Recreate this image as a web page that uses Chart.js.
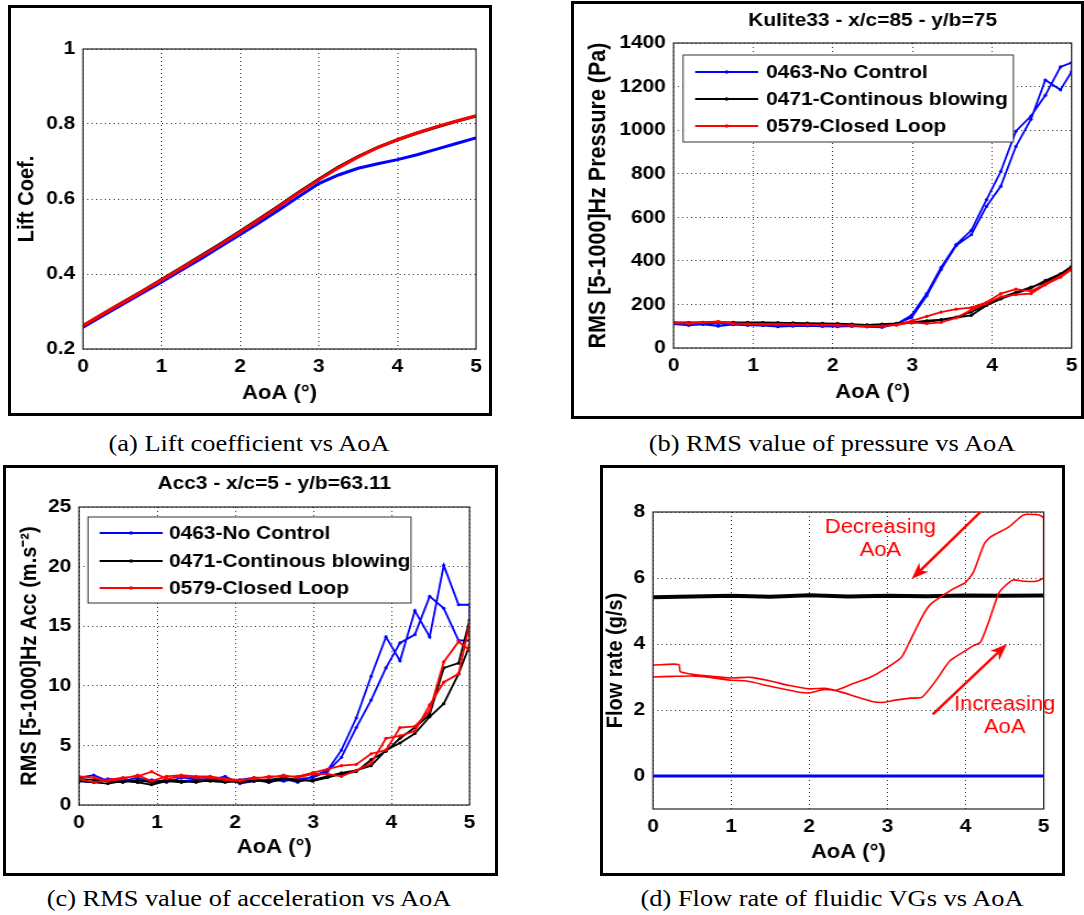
<!DOCTYPE html>
<html>
<head>
<meta charset="utf-8">
<title>AoA sweep - fluidic VGs</title>
<script src="https://cdn.jsdelivr.net/npm/chart.js@4.4.1/dist/chart.umd.min.js"></script>
<style>
  html, body { margin: 0; padding: 0; background: #fff; }
  body { position: relative; width: 1084px; height: 915px; overflow: hidden; }
  .panel { position: absolute; }
  .frame { position: absolute; box-sizing: border-box; border: 3px solid #000; pointer-events: none; }
  .cap { position: absolute; width: 500px; margin-left: -250px; text-align: center; color: #000;
         font-family: 'Liberation Serif', 'Times New Roman', serif; font-size: 24px; line-height: 28px;
         transform: scaleX(1.1); white-space: nowrap; }
</style>
</head>
<body>
<div class="panel" id="pa"><canvas id="chartA"></canvas></div>
<div class="panel" id="pb"><canvas id="chartB"></canvas></div>
<div class="panel" id="pc"><canvas id="chartC"></canvas></div>
<div class="panel" id="pd"><canvas id="chartD"></canvas></div>
<div class="cap" style="left:249px;top:429px">(a) Lift coefficient vs AoA</div>
<div class="cap" style="left:832px;top:429px">(b) RMS value of pressure vs AoA</div>
<div class="cap" style="left:249px;top:884px">(c) RMS value of acceleration vs AoA</div>
<div class="cap" style="left:832px;top:884px">(d) Flow rate of fluidic VGs vs AoA</div>

<script>
// ======== DATA =========
const aoaTicks = [0, 1, 2, 3, 4, 5];

// (a) lift coefficient
const aoaLift = [0, 0.25, 0.5, 0.75, 1, 1.25, 1.5, 1.75, 2, 2.25, 2.5, 2.75, 3, 3.25, 3.5, 3.75, 4, 4.25, 4.5, 4.75, 5];
const liftNoControl = [0.258, 0.289, 0.319, 0.349, 0.379, 0.41, 0.441, 0.473, 0.505, 0.538, 0.572, 0.607, 0.641, 0.664, 0.682, 0.694, 0.705, 0.718, 0.733, 0.748, 0.763];
const liftContinuous = [0.262, 0.293, 0.324, 0.354, 0.385, 0.417, 0.449, 0.481, 0.514, 0.548, 0.583, 0.619, 0.653, 0.685, 0.713, 0.738, 0.758, 0.776, 0.792, 0.807, 0.821];
const liftClosedLoop = [0.262, 0.293, 0.323, 0.353, 0.384, 0.415, 0.447, 0.479, 0.512, 0.546, 0.581, 0.617, 0.651, 0.683, 0.712, 0.737, 0.758, 0.776, 0.793, 0.808, 0.822];
const liftTicks = [0.2, 0.4, 0.6, 0.8, 1];

// (b) and (c) : AoA sweep up then back down
const aoaSweep = [0, 0.19, 0.37, 0.56, 0.75, 0.93, 1.12, 1.31, 1.5, 1.68, 1.87, 2.06, 2.24, 2.43, 2.62, 2.8, 2.99, 3.18, 3.36, 3.55, 3.74, 3.93, 4.11, 4.3, 4.49, 4.67, 4.86, 5];

// (b) RMS pressure, Pa
const pressNoCtrlUp = [110, 104, 108, 100, 107, 104, 103, 98, 100, 102, 99, 98, 100, 97, 95, 110, 150, 250, 370, 475, 540, 680, 810, 995, 1065, 1160, 1290, 1310];
const pressNoCtrlDown = [112, 110, 113, 112, 110, 108, 106, 105, 104, 105, 103, 102, 101, 100, 102, 112, 140, 240, 360, 470, 520, 650, 742, 925, 1050, 1230, 1185, 1268];
const pressContUp = [118, 117, 118, 119, 117, 118, 116, 115, 115, 114, 113, 112, 110, 105, 108, 112, 115, 120, 128, 140, 150, 195, 225, 250, 275, 310, 340, 375];
const pressContDown = [115, 116, 117, 118, 118, 116, 117, 116, 114, 113, 112, 111, 109, 106, 110, 113, 118, 125, 130, 142, 165, 200, 232, 255, 280, 300, 335, 370];
const pressLoopUp = [115, 112, 116, 118, 112, 110, 108, 107, 106, 106, 105, 104, 103, 98, 100, 105, 118, 112, 118, 138, 175, 205, 235, 245, 250, 290, 325, 360];
const pressLoopDown = [113, 115, 118, 122, 113, 111, 110, 109, 108, 107, 106, 105, 104, 100, 102, 107, 125, 145, 165, 178, 185, 210, 250, 270, 260, 295, 330, 365];
const pressTicks = [0, 200, 400, 600, 800, 1000, 1200, 1400];

// (c) RMS acceleration, m.s-2
const accNoCtrlUp = [2.3, 2.5, 2.0, 2.2, 1.9, 2.1, 1.9, 2.3, 2.2, 2.1, 2.4, 1.8, 2.0, 2.1, 2.0, 2.2, 2.3, 2.8, 4.0, 6.5, 8.8, 11.5, 13.6, 14.3, 17.5, 16.5, 13.8, 13.8];
const accNoCtrlDown = [2.0, 1.9, 2.2, 2.0, 2.3, 1.9, 2.1, 2.0, 2.1, 2.2, 2.0, 2.1, 2.3, 1.9, 2.2, 1.9, 2.4, 2.9, 4.6, 7.3, 10.8, 14.1, 12.1, 16.3, 14.1, 20.1, 16.8, 16.8];
const accContUp = [2.0, 1.9, 1.8, 2.0, 1.9, 1.7, 2.0, 1.9, 2.0, 2.0, 1.9, 2.0, 2.1, 1.9, 2.2, 2.0, 2.1, 2.4, 2.7, 2.9, 3.3, 4.6, 5.2, 6.0, 7.4, 8.5, 11.0, 13.4];
const accContDown = [2.2, 2.1, 2.0, 1.9, 2.1, 1.9, 2.1, 2.0, 1.9, 2.1, 2.0, 1.9, 2.0, 2.1, 2.3, 2.1, 2.0, 2.3, 2.6, 2.8, 3.8, 4.5, 5.6, 6.5, 7.6, 11.5, 11.9, 15.5];
const accLoopUp = [2.2, 1.9, 2.1, 2.3, 2.4, 2.8, 2.2, 2.4, 2.3, 2.3, 2.1, 2.0, 2.3, 2.3, 2.5, 2.3, 2.6, 2.6, 2.4, 2.9, 3.5, 5.6, 5.8, 6.2, 8.4, 10.3, 11.0, 15.2];
const accLoopDown = [2.4, 2.3, 2.0, 2.2, 2.5, 2.0, 2.4, 2.5, 2.4, 2.4, 2.2, 2.1, 2.2, 2.4, 2.4, 2.4, 2.7, 3.0, 3.3, 3.4, 4.3, 4.6, 6.5, 6.6, 7.9, 12.0, 13.7, 13.0];
const accTicks = [0, 5, 10, 15, 20, 25];

// (d) flow rate, g/s
const flowAoaNoCtrl = [0, 5];
const flowNoCtrl = [0, 0];
const flowAoaCont = [0, 0.5, 1, 1.5, 2, 2.5, 3, 3.5, 4, 4.5, 5];
const flowCont = [5.42, 5.44, 5.46, 5.43, 5.48, 5.44, 5.46, 5.45, 5.47, 5.46, 5.47];
const flowAoaLoop = [0, 0.33, 0.35, 0.5, 0.75, 1.0, 1.25, 1.5, 1.75, 2.0, 2.2, 2.34, 2.56, 2.78, 3.0, 3.18, 3.27, 3.44, 3.55, 3.71, 3.84, 4.0, 4.1, 4.24, 4.33, 4.55, 4.73, 4.81, 4.95, 5.0,
                     5.0, 4.9, 4.75, 4.61, 4.5, 4.42, 4.3, 4.19, 4.1, 4.0, 3.8, 3.62, 3.44, 3.3, 3.1, 2.95, 2.8, 2.6, 2.4, 2.2, 2.0, 1.9, 1.5, 1.2, 1.0, 0.75, 0.5, 0.25, 0];
const flowLoop = [3.36, 3.38, 3.16, 3.08, 3.02, 2.97, 2.99, 2.88, 2.74, 2.64, 2.66, 2.6, 2.8, 2.99, 3.29, 3.6, 4.0, 4.81, 5.2, 5.47, 5.67, 5.87, 6.18, 7.04, 7.26, 7.54, 7.9, 7.93, 7.9, 7.8,
                  6.02, 5.9, 5.9, 5.94, 5.75, 5.52, 4.7, 4.05, 3.95, 3.8, 3.49, 2.89, 2.38, 2.36, 2.3, 2.23, 2.26, 2.4, 2.55, 2.62, 2.52, 2.53, 2.72, 2.88, 2.9, 2.98, 3.03, 3.02, 3.0];
const flowTicks = [0, 2, 4, 6, 8];

// arrows + notes on (d), in data units (AoA, g/s)
const arrowDecTail = [4.19, 8.0];
const arrowDecHead = [3.31, 5.97];
const arrowIncTail = [3.58, 1.87];
const arrowIncHead = [4.53, 4.0];
const noteDec = { x: 2.91, y: [7.54, 6.84], text: ['Decreasing', 'AoA'] };
const noteInc = { x: 4.5, y: [2.18, 1.47], text: ['Increasing', 'AoA'] };

const seriesNames = ['0463-No Control', '0471-Continous blowing', '0579-Closed Loop'];

// ======== LAYOUT =========
// the reference figure is stretched horizontally, canvases are drawn narrow and widened by css
const S = 1.1;
const FONT = "'Liberation Sans', Arial, Helvetica, sans-serif";
Chart.defaults.font.family = FONT;
Chart.defaults.color = '#000';

// page pixels: outer frame, axes box, y-title centre x, x-title centre y, title centre y
const layoutA = { frame: [8, 5, 492, 416], plot: [83, 49, 476, 349], yTitleX: 27.7, xTitleY: 393, yTitleSize: 20 };
const layoutB = { frame: [571, 1, 1084, 419], plot: [673.5, 43, 1072, 348], yTitleX: 599, xTitleY: 392, titleY: 21, yTitleSize: 21.5 };
const layoutC = { frame: [3, 465, 498, 876], plot: [79, 507, 469.5, 805], yTitleX: 29.4, xTitleY: 847, titleY: 484, yTitleSize: 20 };
const layoutD = { frame: [600, 465, 1065, 876], plot: [653, 512, 1044, 809], yTitleX: 616, xTitleY: 852, yTitleSize: 20 };

function geometry(p) {
  const W = p.frame[2] - p.frame[0], H = p.frame[3] - p.frame[1];
  const cw = Math.round(W / S);
  const g = {
    W: W, H: H, cw: cw,
    left: (p.plot[0] - p.frame[0]) / S,
    right: cw - (p.plot[2] - p.frame[0]) / S,
    top: p.plot[1] - p.frame[1],
    xh: p.frame[3] - p.plot[3],
    yTitleSize: p.yTitleSize,
    yTitlePad: (p.yTitleX - p.frame[0]) / S - p.yTitleSize * 0.6,
    xTitlePad: p.frame[3] - p.xTitleY - 12
  };
  if (p.titleY) {
    g.titleTop = p.titleY - p.frame[1] - 11.4;
    g.titleBottom = g.top - g.titleTop - 22.8;
  }
  return g;
}

function mountPanel(id, p, g) {
  const box = document.getElementById(id);
  box.style.left = p.frame[0] + 'px';
  box.style.top = p.frame[1] + 'px';
  const cv = box.querySelector('canvas');
  cv.width = g.cw;
  cv.height = g.H;
  cv.style.width = g.W + 'px';
  cv.style.height = g.H + 'px';
  const fr = document.createElement('div');
  fr.className = 'frame';
  fr.style.left = p.frame[0] + 'px';
  fr.style.top = p.frame[1] + 'px';
  fr.style.width = g.W + 'px';
  fr.style.height = g.H + 'px';
  document.body.appendChild(fr);
  return cv;
}

function pairs(xs, ys) {
  return xs.map((x, i) => ({ x: x, y: ys[i] }));
}
function sweep(up, down) {
  return pairs(aoaSweep, up).concat(pairs(aoaSweep, down).reverse());
}

// ======== PLUGINS =========
const axesBox = {
  id: 'axesBox',
  afterDatasetsDraw(chart) {
    const a = chart.chartArea, ctx = chart.ctx;
    ctx.save();
    ctx.strokeStyle = '#222';
    ctx.lineWidth = 1.2;
    ctx.strokeRect(a.left, a.top, a.right - a.left, a.bottom - a.top);
    ctx.restore();
  }
};

function insideLegend(box) {
  return {
    id: 'insideLegend',
    afterDraw(chart) {
      const a = chart.chartArea, ctx = chart.ctx;
      const x0 = a.left + box.x / S, y0 = a.top + box.y;
      ctx.save();
      ctx.fillStyle = '#fff';
      ctx.fillRect(x0, y0, box.w / S, box.h);
      ctx.strokeStyle = '#333';
      ctx.lineWidth = 1;
      ctx.strokeRect(x0, y0, box.w / S, box.h);
      ctx.font = 'bold 19px ' + FONT;
      ctx.textBaseline = 'middle';
      ctx.textAlign = 'left';
      chart.data.datasets.forEach((ds, i) => {
        const y = y0 + box.rows[i];
        const xa = x0 + box.lineFrom / S, xb = x0 + box.lineTo / S;
        ctx.strokeStyle = ds.borderColor;
        ctx.lineWidth = ds.borderWidth;
        ctx.beginPath();
        ctx.moveTo(xa, y);
        ctx.lineTo(xb, y);
        ctx.stroke();
        ctx.fillStyle = ds.borderColor;
        ctx.beginPath();
        ctx.arc((xa + xb) / 2, y, 1.8, 0, Math.PI * 2);
        ctx.fill();
        ctx.fillStyle = '#000';
        ctx.fillText(ds.label, x0 + box.textX / S, y + 1);
      });
      ctx.restore();
    }
  };
}

function drawArrow(ctx, x1, y1, x2, y2) {
  // head built in page space, then squeezed back into canvas space
  const dx = (x2 - x1) * S, dy = y2 - y1;
  const len = Math.hypot(dx, dy), ux = dx / len, uy = dy / len;
  const hl = 17, hw = 6.5, notch = 12;
  ctx.beginPath();
  ctx.moveTo(x1, y1);
  ctx.lineTo(x2 - (ux * notch) / S, y2 - uy * notch);
  ctx.stroke();
  ctx.beginPath();
  ctx.moveTo(x2, y2);
  ctx.lineTo(x2 + (-ux * hl - uy * hw) / S, y2 - uy * hl + ux * hw);
  ctx.lineTo(x2 - (ux * notch) / S, y2 - uy * notch);
  ctx.lineTo(x2 + (-ux * hl + uy * hw) / S, y2 - uy * hl - ux * hw);
  ctx.closePath();
  ctx.fill();
}

const flowNotes = {
  id: 'flowNotes',
  afterDatasetsDraw(chart) {
    const ctx = chart.ctx, sx = chart.scales.x, sy = chart.scales.y;
    ctx.save();
    ctx.fillStyle = '#ff0000';
    ctx.strokeStyle = '#ff0000';
    ctx.lineWidth = 2.5;
    ctx.font = '20px ' + FONT;
    ctx.textAlign = 'center';
    ctx.textBaseline = 'middle';
    [noteDec, noteInc].forEach(n => {
      n.text.forEach((t, i) => ctx.fillText(t, sx.getPixelForValue(n.x), sy.getPixelForValue(n.y[i])));
    });
    drawArrow(ctx, sx.getPixelForValue(arrowDecTail[0]), sy.getPixelForValue(arrowDecTail[1]),
                   sx.getPixelForValue(arrowDecHead[0]), sy.getPixelForValue(arrowDecHead[1]));
    drawArrow(ctx, sx.getPixelForValue(arrowIncTail[0]), sy.getPixelForValue(arrowIncTail[1]),
                   sx.getPixelForValue(arrowIncHead[0]), sy.getPixelForValue(arrowIncHead[1]));
    ctx.restore();
  }
};

// ======== OPTIONS =========
function buildOptions(g, yMin, yMax, yTicks, yTitle, title) {
  const tickFont = { size: 19, weight: 'bold' };
  const grid = { color: '#333', lineWidth: 1, drawTicks: false };
  return {
    responsive: false,
    animation: false,
    devicePixelRatio: 1,
    events: [],
    layout: { padding: { left: 0, right: g.right, top: title ? 0 : g.top, bottom: 0 } },
    plugins: {
      legend: { display: false },
      tooltip: { enabled: false },
      title: title ? {
        display: true, text: title, fullSize: false, color: '#000',
        font: { size: 19, weight: 'bold', lineHeight: 1.2 },
        padding: { top: g.titleTop, bottom: g.titleBottom }
      } : { display: false }
    },
    scales: {
      x: {
        type: 'linear', min: 0, max: 5,
        afterBuildTicks: s => { s.ticks = aoaTicks.map(v => ({ value: v })); },
        afterFit: s => { s.height = g.xh; },
        grid: grid,
        border: { display: false, dash: [1, 3] },
        ticks: { font: tickFont, color: '#000', padding: 6, maxRotation: 0, autoSkip: false, callback: v => String(v) },
        title: { display: true, text: 'AoA (°)', color: '#000', font: { size: 20, weight: 'bold', lineHeight: 1.2 }, padding: { top: 0, bottom: g.xTitlePad } }
      },
      y: {
        type: 'linear', min: yMin, max: yMax,
        afterBuildTicks: s => { s.ticks = yTicks.map(v => ({ value: v })); },
        afterFit: s => { s.width = g.left; },
        grid: grid,
        border: { display: false, dash: [1, 3] },
        ticks: { font: tickFont, color: '#000', padding: 7, autoSkip: false, callback: v => String(v) },
        title: { display: true, text: yTitle, color: '#000', font: { size: g.yTitleSize, weight: 'bold', lineHeight: 1.2 }, padding: { top: g.yTitlePad, bottom: 0 } }
      }
    }
  };
}

function sweepSet(label, data, color, order) {
  return {
    label: label, data: data, showLine: true, borderColor: color, backgroundColor: color,
    borderWidth: 1.8, pointRadius: 1.6, pointBorderWidth: 0, pointBackgroundColor: color,
    tension: 0, order: order
  };
}

// ======== GRÁFICO (a) LIFT =========
const gA = geometry(layoutA);
new Chart(mountPanel('pa', layoutA, gA), {
  type: 'scatter',
  data: {
    datasets: [
      { label: seriesNames[0], data: pairs(aoaLift, liftNoControl), showLine: true, borderColor: '#0000ff', borderWidth: 3, pointRadius: 0, order: 3 },
      { label: seriesNames[1], data: pairs(aoaLift, liftContinuous), showLine: true, borderColor: '#000000', borderWidth: 3, pointRadius: 0, order: 2 },
      { label: seriesNames[2], data: pairs(aoaLift, liftClosedLoop), showLine: true, borderColor: '#ff0000', borderWidth: 3, pointRadius: 0, order: 1 }
    ]
  },
  options: buildOptions(gA, 0.2, 1, liftTicks, 'Lift Coef.', null),
  plugins: [axesBox]
});

// ======== GRÁFICO (b) PRESSURE =========
const gB = geometry(layoutB);
new Chart(mountPanel('pb', layoutB, gB), {
  type: 'scatter',
  data: {
    datasets: [
      sweepSet(seriesNames[0], sweep(pressNoCtrlUp, pressNoCtrlDown), '#0000ff', 3),
      sweepSet(seriesNames[1], sweep(pressContUp, pressContDown), '#000000', 2),
      sweepSet(seriesNames[2], sweep(pressLoopUp, pressLoopDown), '#ff0000', 1)
    ]
  },
  options: buildOptions(gB, 0, 1400, pressTicks, 'RMS [5-1000]Hz Pressure (Pa)', 'Kulite33 - x/c=85 - y/b=75'),
  plugins: [axesBox, insideLegend({ x: 9.5, y: 12, w: 330, h: 87, rows: [17, 44, 71], lineFrom: 12, lineTo: 75, textX: 83 })]
});

// ======== GRÁFICO (c) ACCELERATION =========
const gC = geometry(layoutC);
new Chart(mountPanel('pc', layoutC, gC), {
  type: 'scatter',
  data: {
    datasets: [
      sweepSet(seriesNames[0], sweep(accNoCtrlUp, accNoCtrlDown), '#0000ff', 3),
      sweepSet(seriesNames[1], sweep(accContUp, accContDown), '#000000', 2),
      sweepSet(seriesNames[2], sweep(accLoopUp, accLoopDown), '#ff0000', 1)
    ]
  },
  options: buildOptions(gC, 0, 25, accTicks, 'RMS [5-1000]Hz Acc (m.s⁻²)', 'Acc3 - x/c=5 - y/b=63.11'),
  plugins: [axesBox, insideLegend({ x: 9, y: 10, w: 323, h: 86, rows: [16, 44, 71], lineFrom: 11.6, lineTo: 74.6, textX: 81 })]
});

// ======== GRÁFICO (d) FLOW RATE =========
const gD = geometry(layoutD);
new Chart(mountPanel('pd', layoutD, gD), {
  type: 'scatter',
  data: {
    datasets: [
      { label: seriesNames[0], data: pairs(flowAoaNoCtrl, flowNoCtrl), showLine: true, borderColor: '#0000ff', borderWidth: 3, pointRadius: 0, order: 3 },
      { label: seriesNames[1], data: pairs(flowAoaCont, flowCont), showLine: true, borderColor: '#000000', borderWidth: 4, pointRadius: 0, order: 2 },
      { label: seriesNames[2], data: pairs(flowAoaLoop, flowLoop), showLine: true, borderColor: '#ff0000', borderWidth: 1.6, pointRadius: 0, tension: 0.2, order: 1 }
    ]
  },
  options: buildOptions(gD, -1, 8, flowTicks, 'Flow rate (g/s)', null),
  plugins: [axesBox, flowNotes]
});
</script>
</body>
</html>
